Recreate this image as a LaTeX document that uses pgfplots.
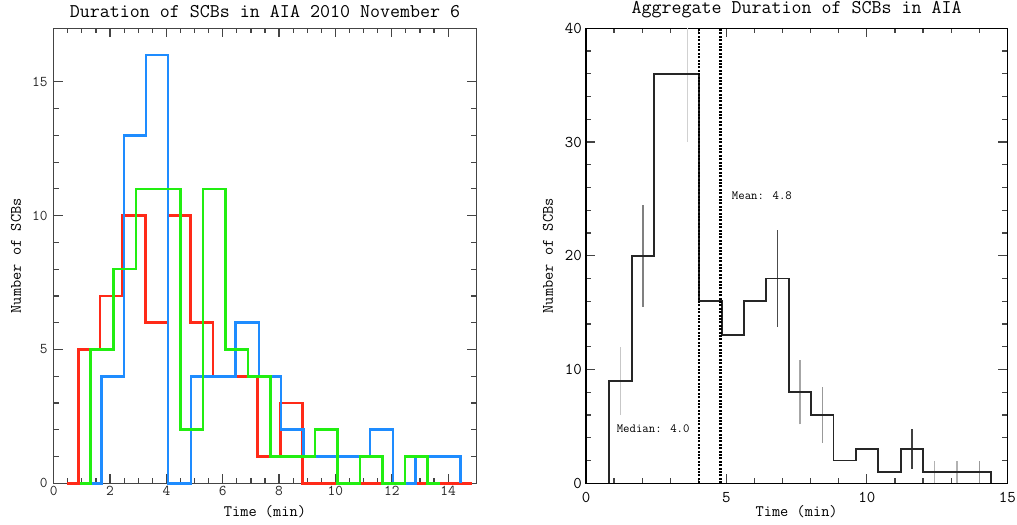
\documentclass[border=0pt]{standalone}
\usepackage{pgfplots}
\pgfplotsset{compat=1.18}

\definecolor{hRed}{HTML}{FF2A18}
\definecolor{hBlue}{HTML}{1E8CFF}
\definecolor{hGreen}{HTML}{22EE11}
\definecolor{axgray}{HTML}{444444}

\pgfplotsset{
  idlstyle/.style={
    scale only axis,
    xmin=0, xmax=15,
    axis line style={line width=1.5bp, axgray},
    every tick/.style={line width=1.2bp, axgray},
    major tick length=9bp, minor tick length=5bp,
    tick align=inside,
    /pgf/number format/assume math mode=true,
    tick label style={font=\ttfamily\fontsize{15}{15}\selectfont, text=black!85},
    label style={font=\ttfamily\fontsize{16}{16}\selectfont},
    title style={font=\ttfamily\fontsize{19.5}{20}\selectfont, anchor=south, at={(axis description cs:0.5,1)}, yshift=1bp},
    ylabel style={at={(axis description cs:-0.089,0.5)}, anchor=center},
    xlabel style={at={(axis description cs:0.5,-0.063)}, anchor=center},
    clip=false,
  },
}

\begin{document}
\begin{tikzpicture}
\useasboundingbox (0,0) rectangle (1017bp,525bp);

% left panel: one day, three channels
\begin{axis}[
  idlstyle,
  at={(53.7bp,41.7bp)}, anchor=south west,
  width=422.6bp, height=455bp,
  ymin=0, ymax=17,
  xtick={0,2,4,6,8,10,12,14}, minor x tick num=3,
  ytick={0,5,10,15}, minor y tick num=4,
  xticklabel style={anchor=north, inner sep=0pt, yshift=-3bp},
  yticklabel style={anchor=east, inner sep=0pt, xshift=-6bp},
  title={Duration of SCBs in AIA 2010 November 6},
  xlabel={Time (min)}, ylabel={Number of SCBs},
]
\addplot[const plot mark left, hRed, line width=2.6bp] coordinates {
  (0.47,0) (0.87,5) (1.65,7) (2.44,10) (3.25,6) (4.05,10) (4.86,6) (5.65,4)
  (6.44,4) (7.24,1) (8.04,3) (8.84,0) (14.84,0)};
\addplot[const plot mark left, hBlue, line width=2.6bp] coordinates {
  (1.29,0) (1.70,4) (2.50,13) (3.28,16) (4.06,0) (4.87,4) (5.67,4) (6.46,6)
  (7.28,4) (8.07,2) (8.86,1) (9.65,1) (10.44,1) (11.23,2) (12.05,0) (12.84,1)
  (13.63,1) (14.43,0)};
\addplot[const plot mark left, hGreen, line width=2.6bp] coordinates {
  (0.93,0) (1.31,5) (2.12,8) (2.92,11) (3.71,11) (4.51,2) (5.30,11) (6.10,5)
  (6.90,4) (7.70,1) (8.49,1) (9.28,2) (10.08,0) (10.87,1) (11.67,0) (12.47,1)
  (13.27,0) (13.70,0)};
\end{axis}

% right panel: all days together
\begin{axis}[
  idlstyle,
  at={(586bp,41.7bp)}, anchor=south west,
  width=421.3bp, height=455bp,
  ymin=0, ymax=40,
  xtick={0,5,10,15}, minor x tick num=4,
  ytick={0,10,20,30,40}, minor y tick num=4,
  axis line style={line width=1.5bp, black},
  tick label style={font=\ttfamily\fontsize{16.5}{16.5}\selectfont, text=black},
  xticklabel style={anchor=north, inner sep=0pt, yshift=-9bp},
  yticklabel style={anchor=east, inner sep=0pt, xshift=-4bp},
  ylabel style={at={(axis description cs:-0.09,0.5)}},
  title={Aggregate Duration of SCBs in AIA},
  xlabel={Time (min)}, ylabel={Number of SCBs},
]
% error bars, sqrt(N)
\addplot[black!22, line width=1.2bp] coordinates {(1.23,6) (1.23,12)};
\addplot[black!50, line width=1.2bp] coordinates {(2.03,15.53) (2.03,24.47)};
\addplot[black!18, line width=1.2bp] coordinates {(3.62,30) (3.62,40)};
\addplot[black!70, line width=1.2bp] coordinates {(6.82,13.76) (6.82,22.24)};
\addplot[black!35, line width=1.2bp] coordinates {(7.62,5.17) (7.62,10.83)};
\addplot[black!40, line width=1.2bp] coordinates {(8.41,3.55) (8.41,8.45)};
\addplot[black!75, line width=1.2bp] coordinates {(11.61,1.27) (11.61,4.73)};
\addplot[black!30, line width=1.2bp] coordinates {(12.41,0) (12.41,2)};
\addplot[black!30, line width=1.2bp] coordinates {(13.21,0) (13.21,2)};
\addplot[black!40, line width=1.2bp] coordinates {(14.01,0) (14.01,2)};
% histogram
\addplot[const plot mark left, black!85, line width=1.9bp] coordinates {
  (0.83,0) (0.83,9) (1.63,20) (2.43,36) (3.23,36) (4.03,16) (4.83,13) (5.63,16)
  (6.42,18) (7.22,8) (8.02,6) (8.81,2) (9.61,3) (10.41,1) (11.21,3) (12.01,1)
  (12.81,1) (13.61,1) (14.41,0)};
% median and mean
\addplot[black, line width=2.2bp, dash pattern=on 2bp off 1.4bp] coordinates {(4.02,0) (4.02,40)};
\addplot[black, line width=2.2bp, dash pattern=on 2bp off 1.4bp] coordinates {(4.79,0) (4.79,40)};
\node[anchor=west, inner sep=0pt, font=\ttfamily\fontsize{12.5}{12.5}\selectfont] at (axis cs:1.09,4.77) {Median: 4.0};
\node[anchor=west, inner sep=0pt, font=\ttfamily\fontsize{12.5}{12.5}\selectfont] at (axis cs:5.19,25.25) {Mean: 4.8};
\end{axis}
\end{tikzpicture}
\end{document}
